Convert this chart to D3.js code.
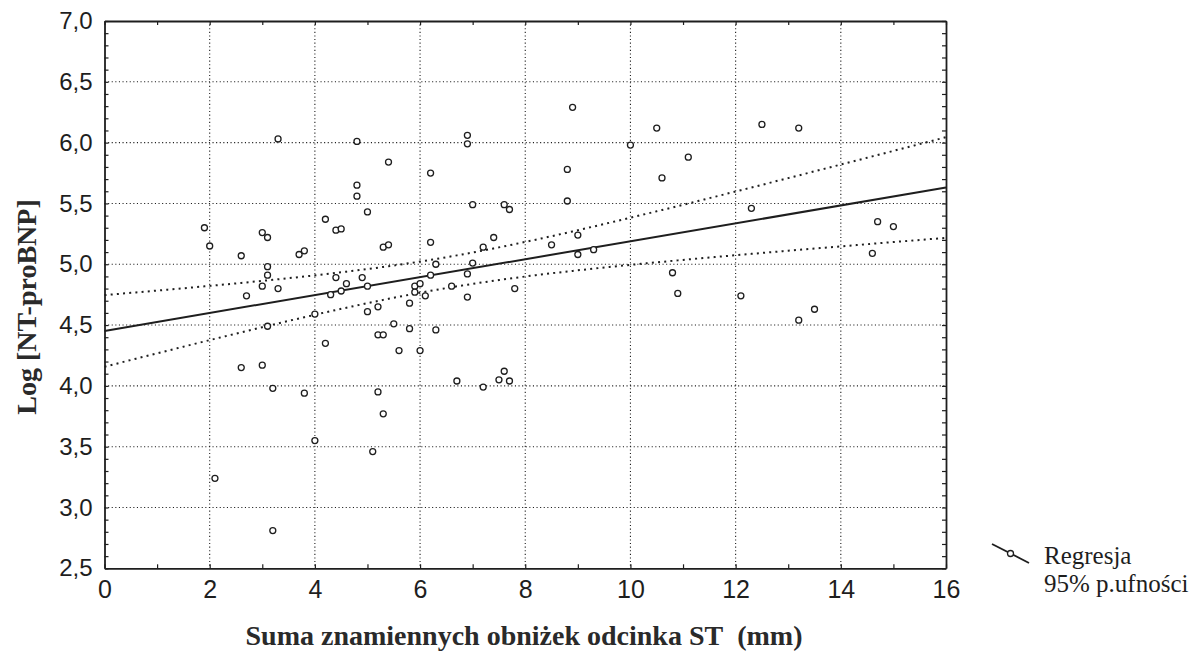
<!DOCTYPE html>
<html>
<head>
<meta charset="utf-8">
<script src="https://cdn.jsdelivr.net/npm/d3@7"></script>
<style>
  body { margin: 0; background: #fff; }
  svg { display: block; }
</style>
</head>
<body>
<div id="chart"></div>
<script>
// scatter: ST depression sum (mm) vs log NT-proBNP, with regression line and 95% band

var stSum = [1.9, 2.0, 2.1, 2.6, 2.6, 2.7, 3.0, 3.0, 3.0, 3.1, 3.1, 3.1, 3.1, 3.2, 3.2, 3.3, 3.3,
             3.7, 3.8, 3.8, 4.0, 4.0, 4.2, 4.2, 4.3, 4.4, 4.4, 4.5, 4.5, 4.6, 4.8, 4.8, 4.8, 4.9,
             5.0, 5.0, 5.0, 5.1, 5.2, 5.2, 5.2, 5.3, 5.3, 5.3, 5.4, 5.4, 5.5, 5.6, 5.8, 5.8, 5.9,
             5.9, 6.0, 6.0, 6.1, 6.2, 6.2, 6.2, 6.3, 6.3, 6.6, 6.7, 6.9, 6.9, 6.9, 6.9, 7.0, 7.0,
             7.2, 7.2, 7.4, 7.5, 7.6, 7.6, 7.7, 7.7, 7.8, 8.5, 8.8, 8.8, 8.9, 9.0, 9.0, 9.3, 10.0,
             10.5, 10.6, 10.8, 10.9, 11.1, 12.1, 12.3, 12.5, 13.2, 13.2, 13.5, 14.6, 14.7, 15.0];

var logNT = [5.30, 5.15, 3.24, 5.07, 4.15, 4.74, 5.26, 4.82, 4.17, 5.22, 4.98, 4.91, 4.49, 3.98, 2.81, 6.03, 4.80,
             5.08, 5.11, 3.94, 4.59, 3.55, 5.37, 4.35, 4.75, 5.28, 4.89, 5.29, 4.78, 4.84, 6.01, 5.65, 5.56, 4.89,
             5.43, 4.82, 4.61, 3.46, 4.65, 4.42, 3.95, 5.14, 4.42, 3.77, 5.84, 5.16, 4.51, 4.29, 4.68, 4.47, 4.82,
             4.77, 4.84, 4.29, 4.74, 5.75, 5.18, 4.91, 5.00, 4.46, 4.82, 4.04, 6.06, 5.99, 4.92, 4.73, 5.49, 5.01,
             5.14, 3.99, 5.22, 4.05, 5.49, 4.12, 5.45, 4.04, 4.80, 5.16, 5.78, 5.52, 6.29, 5.24, 5.08, 5.12, 5.98,
             6.12, 5.71, 4.93, 4.76, 5.88, 4.74, 5.46, 6.15, 6.12, 4.54, 4.63, 5.09, 5.35, 5.31];

var xTicks = [0, 2, 4, 6, 8, 10, 12, 14, 16];
var yTicks = [2.5, 3.0, 3.5, 4.0, 4.5, 5.0, 5.5, 6.0, 6.5, 7.0];
var legendLabels = ["Regresja", "95% p.ufności"];

var W = 1189, H = 652;
// plot box edges (note: "top" is taken by window.top, so use pl/pr/pt/pb)
var pl = 104.5, pr = 946, pt = 21, pb = 568.3;
var ink = "#1e1e1e";

var x = d3.scaleLinear().domain([0, 16]).range([pl, pr]);
var y = d3.scaleLinear().domain([2.5, 7.0]).range([pb, pt]);

var svg = d3.select("#chart").append("svg")
    .attr("width", W)
    .attr("height", H);

svg.append("rect").attr("width", W).attr("height", H).attr("fill", "#fff");

// dotted grid at inner major ticks
var grid = svg.append("g").attr("id", "grid");
grid.selectAll("line.gx")
    .data(xTicks.slice(1, -1))
    .enter().append("line")
    .attr("class", "gx")
    .attr("x1", function(d) { return x(d); })
    .attr("x2", function(d) { return x(d); })
    .attr("y1", pt).attr("y2", pb)
    .attr("stroke", ink).attr("stroke-width", 1.1)
    .attr("stroke-dasharray", "1.1,2.5");
grid.selectAll("line.gy")
    .data(yTicks.slice(1, -1))
    .enter().append("line")
    .attr("class", "gy")
    .attr("y1", function(d) { return y(d); })
    .attr("y2", function(d) { return y(d); })
    .attr("x1", pl).attr("x2", pr)
    .attr("stroke", ink).attr("stroke-width", 1.1)
    .attr("stroke-dasharray", "1.1,2.5");

// regression (least squares) + 95% confidence band from the data
var n = stSum.length;
var mx = d3.mean(stSum), my = d3.mean(logNT);
var sxx = d3.sum(stSum, function(d) { return (d - mx) * (d - mx); });
var sxy = d3.sum(stSum, function(d, i) { return (d - mx) * (logNT[i] - my); });
var slope = sxy / sxx;
var icpt = my - slope * mx;
var sse = d3.sum(stSum, function(d, i) { var r = logNT[i] - (icpt + slope * d); return r * r; });
var se = Math.sqrt(sse / (n - 2));
var tval = 1.985; // t(0.975, n-2)

function band(sign) {
    return d3.range(0, 16.001, 0.1).map(function(v) {
        var hw = tval * se * Math.sqrt(1 / n + (v - mx) * (v - mx) / sxx);
        return [v, icpt + slope * v + sign * hw];
    });
}

var line = d3.line()
    .x(function(d) { return x(d[0]); })
    .y(function(d) { return y(d[1]); });

var fit = svg.append("g").attr("id", "fit");
fit.append("path")
    .datum([[0, icpt], [16, icpt + slope * 16]])
    .attr("d", line)
    .attr("fill", "none").attr("stroke", ink).attr("stroke-width", 2);
[1, -1].forEach(function(s) {
    fit.append("path")
        .datum(band(s))
        .attr("d", line)
        .attr("fill", "none").attr("stroke", ink)
        .attr("stroke-width", 2)
        .attr("stroke-dasharray", "2,4.2");
});

// points
svg.append("g").attr("id", "points")
    .selectAll("circle")
    .data(stSum)
    .enter().append("circle")
    .attr("cx", function(d) { return x(d); })
    .attr("cy", function(d, i) { return y(logNT[i]); })
    .attr("r", 3)
    .attr("fill", "#fff")
    .attr("stroke", ink)
    .attr("stroke-width", 1.3);

// axes: minor ticks inside on all four sides
var yMinor = d3.range(25, 71).map(function(d) { return d / 10; });
var xMinor = d3.range(0, 17);

svg.append("g").attr("transform", "translate(" + pl + ",0)")
    .call(d3.axisLeft(y).tickValues(yMinor).tickSize(-4).tickSizeOuter(0).tickFormat(""));
svg.append("g").attr("transform", "translate(" + pr + ",0)")
    .call(d3.axisRight(y).tickValues(yMinor).tickSize(-4).tickSizeOuter(0).tickFormat(""));
svg.append("g").attr("transform", "translate(0," + pb + ")")
    .call(d3.axisBottom(x).tickValues(xMinor).tickSize(-4).tickSizeOuter(0).tickFormat(""));
svg.append("g").attr("transform", "translate(0," + pt + ")")
    .call(d3.axisTop(x).tickValues(xMinor).tickSize(-4).tickSizeOuter(0).tickFormat(""));

svg.selectAll(".domain").attr("stroke", ink).attr("stroke-width", 1.8);
svg.selectAll(".tick line").attr("stroke", ink).attr("stroke-width", 1.2);

// tick labels
var fmtY = function(d) { return d3.format(".1f")(d).replace(".", ","); };

svg.append("g").attr("transform", "translate(" + pl + ",0)")
    .call(d3.axisLeft(y).tickValues(yTicks).tickSize(0).tickPadding(12).tickFormat(fmtY))
    .call(function(g) { g.select(".domain").remove(); })
    .selectAll("text")
    .attr("font-family", "Liberation Sans, Arial, sans-serif")
    .attr("font-size", 24).attr("fill", ink);

svg.append("g").attr("transform", "translate(0," + pb + ")")
    .call(d3.axisBottom(x).tickValues(xTicks).tickSize(0).tickPadding(12).tickFormat(d3.format("d")))
    .call(function(g) { g.select(".domain").remove(); })
    .selectAll("text")
    .attr("font-family", "Liberation Sans, Arial, sans-serif")
    .attr("font-size", 25).attr("fill", ink);

// axis titles
svg.append("text")
    .attr("x", 524).attr("y", 645)
    .attr("text-anchor", "middle")
    .attr("font-family", "Liberation Serif, Times New Roman, serif")
    .attr("font-weight", "bold").attr("font-size", 28).attr("fill", "#2a2a2a")
    .text("Suma znamiennych obniżek odcinka ST\u00a0 (mm)");

svg.append("text")
    .attr("transform", "translate(36,307) rotate(-90)")
    .attr("text-anchor", "middle")
    .attr("font-family", "Liberation Serif, Times New Roman, serif")
    .attr("font-weight", "bold").attr("font-size", 28).attr("fill", "#2a2a2a")
    .text("Log [NT-proBNP]");

// legend
var lg = svg.append("g").attr("id", "legend");
lg.append("line")
    .attr("x1", 992).attr("y1", 544).attr("x2", 1029).attr("y2", 563)
    .attr("stroke", ink).attr("stroke-width", 1.8);
lg.append("circle")
    .attr("cx", 1010.5).attr("cy", 553.5).attr("r", 3)
    .attr("fill", "#fff").attr("stroke", ink).attr("stroke-width", 1.3);
lg.selectAll("text")
    .data(legendLabels)
    .enter().append("text")
    .attr("x", 1044)
    .attr("y", function(d, i) { return 564 + i * 28; })
    .attr("font-family", "Liberation Serif, Times New Roman, serif")
    .attr("font-size", 25).attr("fill", ink)
    .text(function(d) { return d; });
</script>
</body>
</html>
